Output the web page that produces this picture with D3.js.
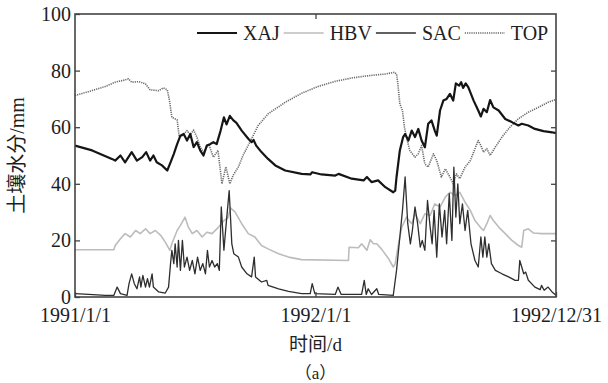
<!DOCTYPE html>
<html>
<head>
<meta charset="utf-8">
<script src="https://cdn.jsdelivr.net/npm/d3@7"></script>
<style>
  body { margin: 0; background: #fff; }
  svg text { font-family: "Liberation Serif", Tinos, "Times New Roman", "DejaVu Serif", serif; fill: #1e1e1e; }
  svg text.cjk { font-family: "Liberation Serif", "Noto Sans CJK SC", serif; }
</style>
</head>
<body>
<svg id="chart" width="608" height="383"></svg>
<script>
const seriesNames = ["XAJ", "HBV", "SAC", "TOP"];
const xTickLabels = ["1991/1/1", "1992/1/1", "1992/12/31"];
const xTickDates = ["1991-01-01", "1992-01-01", "1992-12-31"];
const yTicks = [0, 20, 40, 60, 80, 100];

// [days since 1991/1/1, soil moisture in mm]
const xaj = [[0,53.5],[26,51.8],[56,48.8],[61,48.2],[69,50],[76,47.6],[86,51.2],[94,48.2],[102,49.4],[108,51.2],[114,48.2],[119,50],[124,47.6],[132,46.5],[140,44.7],[145,47.6],[150,50.6],[155,54],[160,57],[165,57.6],[170,55.3],[175,57.6],[180,53],[185,54.7],[190,51.8],[195,50],[200,53.5],[205,54],[210,54.7],[215,54],[221,58.8],[226,63.5],[230,61],[235,64],[240,62.5],[245,61.5],[253,58.8],[263,55.9],[268,54.7],[271,55.5],[275,53.5],[283,51.2],[293,48.8],[304,46.5],[319,44.7],[344,43.5],[357,43.3],[360,44.1],[374,43.3],[395,42.9],[400,43.5],[420,41.8],[438,41.2],[443,42.4],[450,40.6],[460,41.2],[471,38.8],[483,37],[486,37.6],[488,42.4],[493,51.8],[498,56.5],[501,57.6],[506,55.3],[511,58.8],[516,56.5],[521,59.4],[526,55.3],[531,52.9],[536,61.2],[541,62.4],[546,58.8],[549,57],[554,65.9],[559,69.4],[564,70],[569,71.8],[574,69.4],[578,75.5],[583,74.7],[586,75.9],[589,73.9],[593,75.5],[597,74.1],[605,69.4],[612,65.9],[616,63.8],[620,66.5],[625,65.3],[630,69.6],[635,67],[643,65.9],[653,62.9],[663,61.8],[673,60.6],[678,61.2],[688,60.6],[698,59.4],[711,58.6],[724,58.2],[730,57.9]];

const hbv = [[0,16.7],[59,16.7],[61,18.2],[69,20.6],[76,22.4],[84,21.2],[92,23.5],[99,22.4],[107,24.1],[114,22.4],[122,23.5],[130,21.8],[137,19.4],[144,16.5],[147,18.8],[155,23.5],[160,25.3],[167,28.2],[172,24.7],[178,22.4],[185,23.5],[193,21.2],[200,22.9],[208,22.4],[218,24.7],[226,27],[232,28],[236,31.5],[243,30],[253,25.9],[263,22.4],[273,21.2],[283,18.2],[293,17],[309,15.3],[324,14.1],[344,13.2],[415,12.9],[416,17.6],[430,17.4],[435,18.8],[443,16.5],[448,20.2],[453,18.8],[458,18.8],[465,17],[476,13.5],[483,10.6],[486,11.8],[491,18.8],[496,24.7],[503,28.2],[511,25.9],[516,29.4],[524,25.9],[531,29.4],[539,28.8],[546,32.9],[554,31.8],[562,35.3],[569,37],[577,35.9],[584,37],[592,33.5],[600,30.6],[607,27],[615,24.7],[620,23.5],[625,25.9],[630,28.8],[635,27],[643,24.7],[653,22.4],[663,20],[673,18.2],[678,17.6],[681,23.5],[688,24.1],[696,22.6],[708,22.4],[730,22.4]];

const sac = [[0,1.2],[21,0.9],[46,0.6],[59,0.6],[64,3.5],[69,1.2],[79,0.6],[82,4.7],[86,8.2],[90,4.7],[94,2.9],[98,7.1],[100,3.5],[103,7.6],[107,3.5],[110,6.5],[113,3.5],[117,8.2],[119,3.5],[127,1.8],[137,1.4],[142,3.5],[145,11.8],[147,16.5],[150,11.8],[152,18.8],[155,10.6],[157,20],[160,9.4],[163,20],[166,10.6],[170,14.1],[174,9.4],[178,12.9],[182,8.2],[186,14.1],[190,9.4],[194,11.8],[198,8.2],[201,16.5],[204,10.6],[208,12.9],[212,10.6],[216,11.8],[219,9.4],[222,31.8],[226,16.5],[229,24.7],[234,37.6],[238,18.8],[241,15.3],[248,14.1],[253,10.6],[261,8.2],[268,7.1],[272,14.1],[274,7.1],[283,5.3],[291,5.9],[293,4.1],[309,2.9],[324,2],[344,1.2],[357,1.2],[360,4.7],[364,1.2],[395,0.9],[399,3.5],[404,0.9],[435,0.9],[439,5.9],[442,0.9],[445,2.9],[450,0.9],[458,2.9],[461,0.9],[483,0.6],[488,9.4],[493,21.2],[497,30.6],[501,42.4],[505,25.9],[509,18.8],[512,23.5],[516,31.8],[520,25.9],[524,17.6],[527,20],[531,16.5],[535,34.1],[539,24.7],[542,18.8],[545,30.6],[549,14.1],[553,32.9],[557,21.2],[561,30.6],[564,18.8],[568,36.5],[572,20],[575,45.9],[578,28.2],[581,40],[584,25.9],[588,32.9],[592,23.5],[596,30.6],[601,18.8],[607,12.9],[612,10.6],[616,21.2],[619,14.1],[622,21.2],[625,14.1],[628,18.8],[632,11.8],[638,9.4],[648,8.2],[658,7.1],[668,5.9],[673,5.9],[675,12.9],[678,10.6],[681,8.2],[684,8.8],[688,5.9],[698,3.5],[706,2.6],[708,4.1],[712,2.4],[718,3.5],[724,1.8],[730,0.6]];

const top_ = [[0,71.2],[21,72.6],[46,74.4],[61,75.9],[76,76.7],[81,77.1],[86,75.9],[97,76.1],[107,75.3],[114,73.2],[127,72.9],[134,73.9],[140,73.2],[143,70],[147,63.5],[155,62.6],[158,57],[162,56.7],[170,58.8],[175,57.4],[180,59],[185,56.5],[190,53],[195,51.2],[203,54],[210,49.4],[217,51.8],[223,40],[229,46],[235,40],[240,43],[248,46],[255,50],[266,55],[278,60.6],[293,64.7],[319,68.8],[344,72],[369,74.4],[395,76.2],[420,77.4],[445,78.2],[471,78.8],[485,79.4],[488,78.8],[490,75.3],[493,68.2],[497,65.9],[500,60],[503,56.5],[508,51.8],[516,49.4],[521,50.6],[526,53.5],[531,47],[536,45.9],[544,50.6],[549,48.2],[556,42.4],[562,45.3],[569,42.4],[574,40],[579,43.5],[584,41.8],[592,45.9],[600,48.2],[607,52.4],[612,55.3],[616,53.5],[620,51.2],[625,52.4],[630,50],[638,53],[648,56.5],[660,60],[673,63],[688,65.3],[703,67],[718,68.8],[730,69.8]];

const seriesData = [xaj, hbv, sac, top_];
const styles = [
  { color: "#151515", width: 2.2, dash: null },
  { color: "#bcbcbc", width: 1.6, dash: null },
  { color: "#2e2e2e", width: 1.3, dash: null },
  { color: "#6a6a6a", width: 1.6, dash: "1.2,1" }
];

const svg = d3.select("#chart");
const margin = { top: 14, right: 52, bottom: 86, left: 75 };
const W = 608, H = 383;
const x0 = margin.left, x1 = W - margin.right, y0 = H - margin.bottom, y1 = margin.top;

const start = new Date(1991, 0, 1);
const dayDate = d => d3.timeDay.offset(start, d);
const x = d3.scaleTime().domain([start, new Date(1992, 11, 31)]).range([x0, x1]);
const y = d3.scaleLinear().domain([0, 100]).range([y0, y1]);
const tickDates = xTickDates.map(s => d3.timeParse("%Y-%m-%d")(s));

// series
const line = d3.line().x(d => x(dayDate(d[0]))).y(d => y(d[1]));
const order = [1, 3, 2, 0]; // light first, XAJ on top
order.forEach(i => {
  svg.append("path")
    .datum(seriesData[i])
    .attr("fill", "none")
    .attr("stroke", styles[i].color)
    .attr("stroke-width", styles[i].width)
    .attr("stroke-dasharray", styles[i].dash)
    .attr("stroke-linejoin", "round")
    .attr("d", line);
});

// axes, ticks pointing inward on all four sides
function styleAxis(g) {
  g.attr("font-family", null);
  g.select(".domain").remove();
  g.selectAll(".tick line").attr("stroke", "#444").attr("stroke-width", 1.3);
  g.selectAll("text").attr("font-size", 20).attr("fill", "#1e1e1e");
}
svg.append("g").attr("transform", `translate(${x0},0)`)
  .call(d3.axisLeft(y).tickValues(yTicks).tickSize(-5).tickPadding(4))
  .call(styleAxis);
svg.append("g").attr("transform", `translate(${x1},0)`)
  .call(d3.axisRight(y).tickValues(yTicks.slice(1, -1)).tickSize(-5).tickFormat(""))
  .call(styleAxis);
svg.append("g").attr("transform", `translate(0,${y0})`)
  .call(d3.axisBottom(x).tickValues(tickDates).tickSize(-5).tickPadding(11)
    .tickFormat((d, i) => xTickLabels[i]))
  .call(styleAxis);
svg.append("g").attr("transform", `translate(0,${y1})`)
  .call(d3.axisTop(x).tickValues(tickDates.slice(1, 2)).tickSize(-5).tickFormat(""))
  .call(styleAxis);

// frame
svg.append("rect")
  .attr("x", x0).attr("y", y1).attr("width", x1 - x0).attr("height", y0 - y1)
  .attr("fill", "none").attr("stroke", "#444").attr("stroke-width", 1.6);

// legend
const legend = svg.append("g").attr("transform", "translate(197,33)");
let lx = 0;
seriesNames.forEach((name, i) => {
  legend.append("line")
    .attr("x1", lx).attr("x2", lx + 40).attr("y1", 0).attr("y2", 0)
    .attr("stroke", styles[i].color)
    .attr("stroke-width", i === 0 ? 2 : 1.6)
    .attr("stroke-dasharray", styles[i].dash);
  const t = legend.append("text")
    .attr("x", lx + 46).attr("y", 0).attr("dy", "0.34em")
    .attr("font-size", 20).text(name);
  lx += 46 + t.node().getComputedTextLength() + 4;
});

// axis titles
svg.append("text").attr("class", "cjk")
  .attr("transform", `translate(24,${(y0 + y1) / 2}) rotate(-90)`)
  .attr("text-anchor", "middle").attr("font-size", 20)
  .text("土壤水分/mm");
svg.append("text").attr("class", "cjk")
  .attr("x", (x0 + x1) / 2).attr("y", 351)
  .attr("text-anchor", "middle").attr("font-size", 19)
  .text("时间/d");
svg.append("text").attr("class", "cjk")
  .attr("x", (x0 + x1) / 2).attr("y", 379)
  .attr("text-anchor", "middle").attr("font-size", 17)
  .text("（a）");
</script>
</body>
</html>
